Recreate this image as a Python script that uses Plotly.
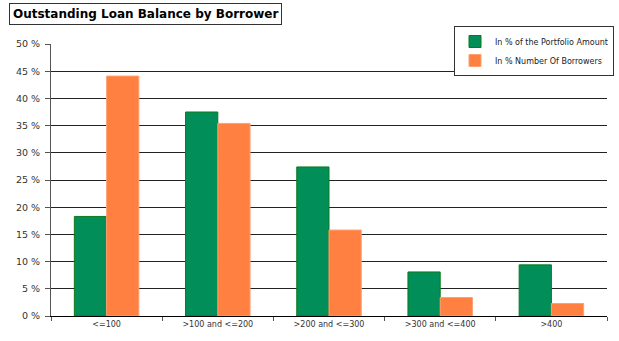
import plotly.graph_objects as go

categories = ["<=100", ">100 and <=200", ">200 and <=300", ">300 and <=400", ">400"]
portfolio_amount = [18.3, 37.5, 27.4, 8.1, 9.4]
number_borrowers = [44.1, 35.4, 15.8, 3.4, 2.3]
y_ticks = [0, 5, 10, 15, 20, 25, 30, 35, 40, 45, 50]
y_tick_labels = [f"{v} %" for v in y_ticks]

fig = go.Figure()
fig.add_trace(go.Bar(
    x=categories, y=portfolio_amount, name="In % of the Portfolio Amount",
    marker=dict(color="#028E58", line=dict(color="#0B7A1E", width=1)),
))
fig.add_trace(go.Bar(
    x=categories, y=number_borrowers, name="In % Number Of Borrowers",
    marker=dict(color="#FF8040", line=dict(color="#FFA070", width=1)),
))

fig.update_layout(
    width=619, height=341,
    margin=dict(l=51, r=12, t=44, b=25, autoexpand=False),
    paper_bgcolor="white", plot_bgcolor="white",
    barmode="group", bargap=0.42, bargroupgap=0,
    font=dict(family="DejaVu Sans", size=9, color="#333333"),
    showlegend=True,
    legend=dict(
        xref="container", yref="container",
        x=614 / 619, xanchor="right", y=1 - 26 / 341, yanchor="top",
        bgcolor="white", bordercolor="#333333", borderwidth=1,
        font=dict(family="DejaVu Sans", size=8, color="#222222"),
        itemwidth=30, tracegroupgap=0,
    ),
    annotations=[dict(
        text="<b>Outstanding Loan Balance by Borrower</b>",
        xref="paper", yref="paper", x=(9 - 51) / 556, y=(316 - 3) / 272,
        xanchor="left", yanchor="top",
        showarrow=False, font=dict(family="DejaVu Sans", size=12, color="black"),
        bordercolor="#333333", borderwidth=1, borderpad=3, bgcolor="white",
    )],
)
fig.update_xaxes(
    showline=True, linecolor="black", linewidth=1,
    ticks="outside", tickson="boundaries", ticklen=4, tickcolor="#555555",
    tickfont=dict(size=8, color="#333333"), showgrid=False, automargin=False,
)
fig.update_yaxes(
    range=[0, 50], tickvals=y_ticks, ticktext=y_tick_labels,
    showline=True, linecolor="#555555", linewidth=1,
    ticks="outside", ticklen=5, tickcolor="#555555", ticklabelstandoff=3,
    showgrid=True, gridcolor="#222222", gridwidth=1,
    tickfont=dict(size=9.5, color="#333333"), zeroline=False, automargin=False,
)

fig.write_html(
    "out.html",
    config={"displayModeBar": False},
    post_script="document.body.style.margin='0';document.body.style.padding='0';",
)
